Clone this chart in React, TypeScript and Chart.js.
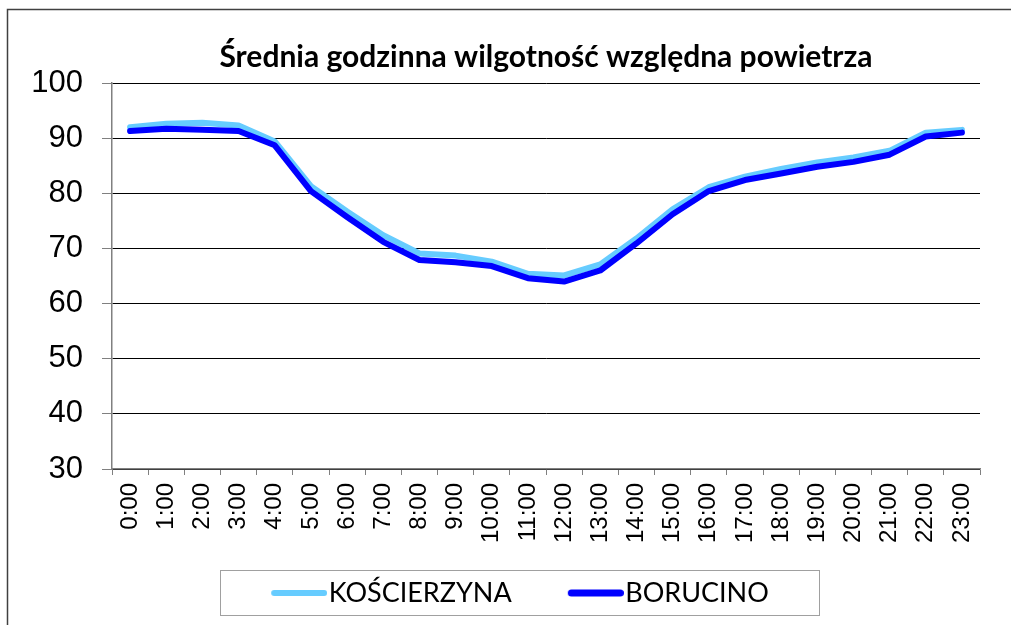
import React, { useEffect, useRef } from "react";
import { Chart, registerables } from "chart.js";

Chart.register(...registerables);

const hours = [
  "0:00", "1:00", "2:00", "3:00", "4:00", "5:00", "6:00", "7:00", "8:00", "9:00", "10:00", "11:00",
  "12:00", "13:00", "14:00", "15:00", "16:00", "17:00", "18:00", "19:00", "20:00", "21:00", "22:00", "23:00",
];
const koscierzyna = [92.0, 92.6, 92.8, 92.3, 89.4, 81.3, 76.7, 72.4, 69.1, 68.7, 67.6, 65.4, 65.1, 67.1, 71.8, 77.1, 81.1, 83.0, 84.4, 85.6, 86.5, 87.7, 91.0, 91.5];
const borucino = [91.3, 91.7, 91.5, 91.3, 88.7, 80.4, 75.7, 71.2, 67.9, 67.5, 66.8, 64.6, 64.0, 66.0, 70.9, 76.2, 80.4, 82.4, 83.6, 84.8, 85.7, 87.0, 90.3, 91.0];
const yMin = 30;
const yMax = 100;
const yStep = 10;
const titleText = "Średnia godzinna wilgotność względna powietrza";
const seriesNames = ["KOŚCIERZYNA", "BORUCINO"];
const seriesColors = ["#66CCFF", "#0000FF"];
const seriesWidths = [6, 6];
const legendLineWidths = [6, 7];

function makeLegendLine(color: string, width: number): HTMLCanvasElement {
  const c = document.createElement("canvas");
  c.width = 68;
  c.height = 12;
  const ctx = c.getContext("2d")!;
  ctx.strokeStyle = color;
  ctx.lineWidth = width;
  ctx.lineCap = "round";
  ctx.beginPath();
  ctx.moveTo(12 + width / 2, 6);
  ctx.lineTo(68 - width / 2, 6);
  ctx.stroke();
  return c;
}

const framePlugin = {
  id: "frame",
  afterLayout(chart: any) {
    const lg = chart.legend;
    if (!lg) return;
    lg.top -= 21.5;
    lg.bottom -= 21.5;
  },
  beforeDraw(chart: any) {
    const ctx = chart.ctx;
    ctx.save();
    ctx.fillStyle = "#ffffff";
    ctx.fillRect(0, 0, chart.width, chart.height);
    ctx.strokeStyle = "#404040";
    ctx.lineWidth = 1.5;
    ctx.beginPath();
    ctx.moveTo(7.5, chart.height + 5);
    ctx.lineTo(7.5, 9.5);
    ctx.lineTo(chart.width + 5, 9.5);
    ctx.stroke();
    ctx.restore();
  },
  afterDraw(chart: any) {
    const boxes = chart.legend && chart.legend.legendHitBoxes;
    if (!boxes || !boxes.length) return;
    let l = Infinity, r = -Infinity, t = Infinity, b = -Infinity;
    for (const h of boxes) {
      l = Math.min(l, h.left);
      r = Math.max(r, h.left + h.width);
      t = Math.min(t, h.top);
      b = Math.max(b, h.top + h.height);
    }
    const ctx = chart.ctx;
    ctx.save();
    ctx.strokeStyle = "#a0a0a0";
    ctx.lineWidth = 1;
    const x0 = Math.round(l - 51) + 0.5;
    const y0 = Math.round(t - 9.5) + 0.5;
    const x1 = Math.round(r + 50) + 0.5;
    const y1 = Math.round(b + 8.5) + 0.5;
    ctx.strokeRect(x0, y0, x1 - x0, y1 - y0);
    ctx.restore();
  },
};

export default function App() {
  const ref = useRef<HTMLCanvasElement | null>(null);

  useEffect(() => {
    if (!ref.current) return;
    const legendImgs = seriesColors.map((c, i) => makeLegendLine(c, legendLineWidths[i]));
    const chart = new Chart(ref.current, {
      type: "line",
      data: {
        labels: hours,
        datasets: [
          {
            label: seriesNames[0],
            data: koscierzyna,
            borderColor: seriesColors[0],
            backgroundColor: seriesColors[0],
            borderWidth: seriesWidths[0],
            pointRadius: 0,
            tension: 0,
            borderCapStyle: "round",
            borderJoinStyle: "round",
            order: 1,
          },
          {
            label: seriesNames[1],
            data: borucino,
            borderColor: seriesColors[1],
            backgroundColor: seriesColors[1],
            borderWidth: seriesWidths[1],
            pointRadius: 0,
            tension: 0,
            borderCapStyle: "round",
            borderJoinStyle: "round",
            order: 0,
          },
        ],
      },
      options: {
        responsive: false,
        animation: false,
        layout: { padding: { left: 29, right: 0, top: 10, bottom: -13 } },
        plugins: {
          title: {
            display: true,
            text: titleText,
            fullSize: false,
            color: "#000000",
            font: { family: "Lato", weight: "bold", size: 30, lineHeight: 1.2 },
            padding: { top: 29, bottom: 8 },
          },
          legend: {
            display: true,
            position: "bottom",
            fullSize: true,
            labels: {
              usePointStyle: true,
              pointStyleWidth: 44,
              padding: 56,
              color: "#000000",
              font: { family: "Lato", size: 27 },
              sort: (a: any, b: any) => a.datasetIndex - b.datasetIndex,
              generateLabels: (ch: any) => {
                const items = (Chart as any).defaults.plugins.legend.labels.generateLabels(ch);
                items.forEach((it: any) => {
                  it.pointStyle = legendImgs[it.datasetIndex];
                });
                return items;
              },
            },
          },
          tooltip: { enabled: false },
        },
        scales: {
          x: {
            type: "category",
            offset: true,
            grid: {
              offset: true,
              drawOnChartArea: false,
              drawTicks: true,
              tickLength: 6,
              tickColor: "#808080",
              tickWidth: 1,
            },
            border: { display: true, color: "#808080", width: 1.5 },
            ticks: {
              minRotation: 90,
              maxRotation: 90,
              autoSkip: false,
              padding: 8,
              color: "#000000",
              font: { family: "Liberation Sans", size: 24 },
            },
            afterFit: (s: any) => {
              s.height = 76;
            },
          },
          y: {
            min: yMin,
            max: yMax,
            position: "left",
            grid: {
              color: "#000000",
              lineWidth: 1,
              drawTicks: true,
              tickLength: 10,
              tickColor: "#808080",
            },
            border: { display: true, color: "#808080", width: 1.5 },
            ticks: {
              stepSize: yStep,
              padding: 19,
              color: "#000000",
              font: { family: "Liberation Sans", size: 31 },
            },
            afterFit: (s: any) => {
              s.width = 83;
            },
          },
          yR: {
            type: "linear",
            position: "right",
            display: true,
            grid: { display: false, drawTicks: false },
            border: { display: false },
            ticks: { display: false },
            afterFit: (s: any) => {
              s.width = 31;
            },
          },
        },
      },
      plugins: [framePlugin],
    } as any);
    return () => chart.destroy();
  }, []);

  return (
    <div style={{ position: "fixed", left: 0, top: 0, width: 1011, height: 625, background: "#fff" }}>
      <canvas ref={ref} width={1011} height={625} style={{ display: "block" }} />
    </div>
  );
}
